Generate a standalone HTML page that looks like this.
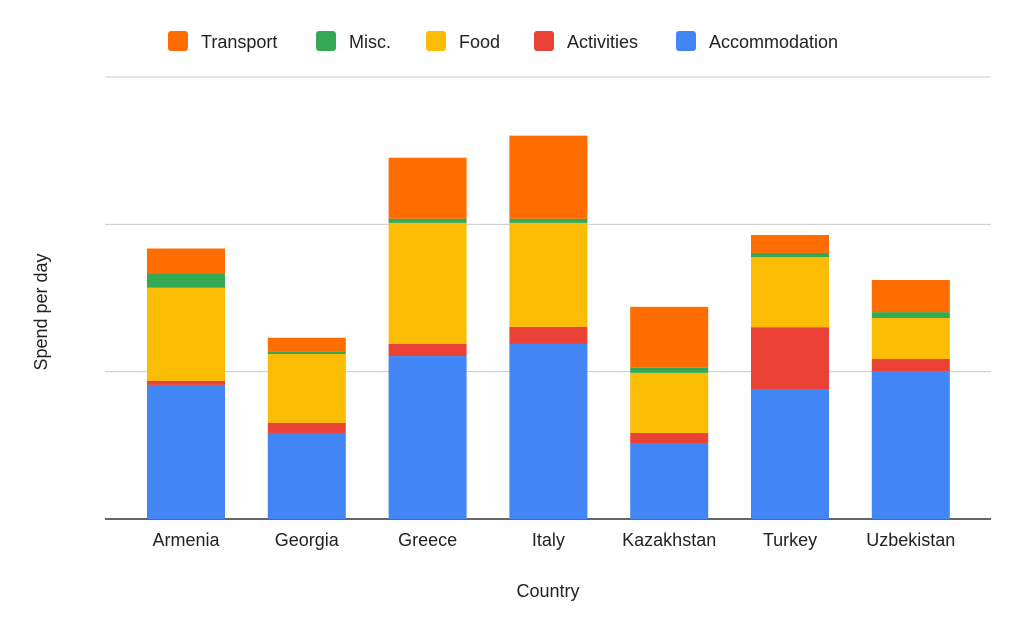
<!DOCTYPE html>
<html><head><meta charset="utf-8"><style>
body{margin:0;background:#fff;font-family:"Liberation Sans",Arial,sans-serif}
svg{display:block}
</style></head><body>
<svg id="chart" width="1024" height="633"></svg>
<script>
const categories=["Armenia","Georgia","Greece","Italy","Kazakhstan","Turkey","Uzbekistan"];
const accommodation=[45.5,29.2,55.3,59.4,25.8,44.1,50.2];
const activities=[1.4,3.4,4.1,5.8,3.4,21.0,4.1];
const food=[31.6,23.4,41.1,35.3,20.4,23.8,13.9];
const misc=[4.8,0.7,1.4,1.4,1.7,1.4,2.0];
const transport=[8.5,4.8,20.7,28.2,20.7,6.1,10.9];
const gridValues=[0,50,100,150];
const seriesNames=["Accommodation","Activities","Food","Misc.","Transport"];
const seriesColors=["#4285f4","#ea4335","#fbbc04","#34a853","#ff6d01"];
const seriesData=[accommodation,activities,food,misc,transport];
const NS="http://www.w3.org/2000/svg";
const svg=document.getElementById('chart');
const baseY=519, pxPerUnit=(519-77)/150;
const y=v=>baseY-v*pxPerUnit;
const x0=186, step=120.8, barW=78;
const xc=i=>x0+i*step;
function mk(tag,attrs,parent){const e=document.createElementNS(NS,tag);for(const k in attrs)e.setAttribute(k,attrs[k]);(parent||svg).appendChild(e);return e;}
gridValues.forEach((v,i)=>{
  const l=mk('line',{x1:105,x2:991,y1:y(v),y2:y(v),stroke:i===0?'#333':'#ccc','stroke-width':i===0?1.5:1});
  
  
});
categories.forEach((c,i)=>{
  let acc=0;
  seriesData.forEach((s,k)=>{
    const v=s[i];
    const r=mk('rect',{x:xc(i)-barW/2,y:y(acc+v),width:barW,height:v*pxPerUnit,fill:seriesColors[k]});
    
    
    acc+=v;
  });
  const t=mk('text',{x:xc(i),y:546,'text-anchor':'middle','font-size':18,fill:'#222'});
  t.textContent=c;
  
  
});
const xt=mk('text',{x:548,y:597,'text-anchor':'middle','font-size':18,fill:'#222'});
xt.textContent='Country';


const yt=mk('text',{x:0,y:0,transform:'translate(47,312) rotate(-90)','text-anchor':'middle','font-size':18,fill:'#222'});
yt.textContent='Spend per day';


const legendOrder=[4,3,2,1,0];
const legendX=[168,316,426,534,676];
legendOrder.forEach((k,j)=>{
  const g=mk('g',{});
  
  
  mk('rect',{x:legendX[j],y:31,width:20,height:20,rx:3,fill:seriesColors[k]},g);
  const t=mk('text',{x:legendX[j]+33,y:48,'font-size':18,fill:'#222'},g);
  t.textContent=seriesNames[k];
});
</script>
</body></html>
